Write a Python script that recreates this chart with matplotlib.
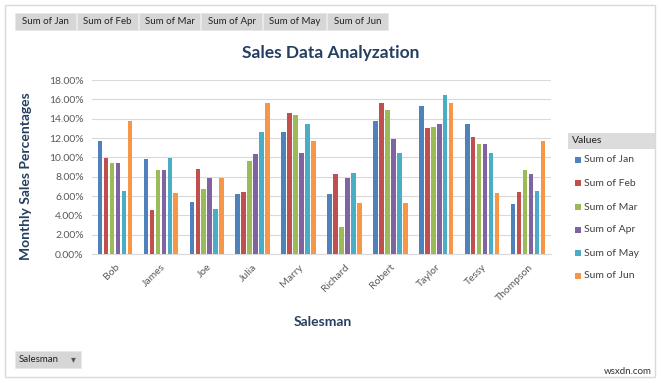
import matplotlib
matplotlib.use("Agg")
import matplotlib.pyplot as plt
from matplotlib.patches import Rectangle
import numpy as np

plt.rcParams['font.family'] = ['Lato', 'DejaVu Sans']

salesmen = ["Bob", "James", "Joe", "Julia", "Marry", "Richard", "Robert", "Taylor", "Tessy", "Thompson"]
series_names = ["Sum of Jan", "Sum of Feb", "Sum of Mar", "Sum of Apr", "Sum of May", "Sum of Jun"]
jan = [11.7, 9.8, 5.4, 6.2, 12.6, 6.2, 13.8, 15.3, 13.4, 5.2]
feb = [9.9, 4.6, 8.8, 6.4, 14.6, 8.3, 15.6, 13.0, 12.1, 6.4]
mar = [9.4, 8.7, 6.7, 9.6, 14.4, 2.8, 14.9, 13.1, 11.4, 8.7]
apr = [9.4, 8.7, 7.9, 10.3, 10.4, 7.9, 11.9, 13.4, 11.4, 8.3]
may = [6.5, 9.9, 4.7, 12.6, 13.5, 8.4, 10.5, 16.5, 10.5, 6.5]
jun = [13.8, 6.3, 7.9, 15.6, 11.7, 5.3, 5.3, 15.6, 6.3, 11.7]
yticks = [0, 2, 4, 6, 8, 10, 12, 14, 16, 18]

colors = ["#4F81BD", "#C0504D", "#9BBB59", "#8064A2", "#4BACC6", "#F79646"]
series = [jan, feb, mar, apr, may, jun]

W, H = 662, 383
fig = plt.figure(figsize=(W / 100, H / 100), dpi=100)

def fx(px):
    return px / W

def fy(py):
    return 1 - py / H

# outer border
fig.patches.append(Rectangle((fx(5), fy(377)), fx(650), 372 / H, transform=fig.transFigure,
                             fill=False, edgecolor="#D9D9D9", linewidth=1))

ax = fig.add_axes([fx(92), fy(254), fx(551 - 92), (254 - 80) / H])
x = np.arange(len(salesmen))
slot = 0.13
bw = 0.10
for i, (vals, c) in enumerate(zip(series, colors)):
    ax.bar(x + (i - 2.5) * slot, vals, width=bw, color=c, zorder=3)

ax.set_ylim(0, 18)
ax.set_xlim(-0.5, len(salesmen) - 0.5)
ax.set_yticks(yticks)
ax.set_yticklabels([f"{v:.2f}%" for v in yticks], fontsize=7.5, color="#595959")
ax.set_xticks(x)
ax.set_xticklabels(salesmen, rotation=45, ha="right", va="top", rotation_mode="anchor",
                   fontsize=7.5, color="#595959")
ax.tick_params(axis="both", length=0, pad=6)
ax.grid(axis="y", color="#D9D9D9", linewidth=0.8, zorder=0)
for s in ["top", "right", "left"]:
    ax.spines[s].set_visible(False)
ax.spines["bottom"].set_color("#D9D9D9")

title_color = "#243F60"
fig.text(fx(331), fy(53), "Sales Data Analyzation", ha="center", va="center",
         fontsize=12.5, fontweight="bold", color=title_color)
fig.text(fx(26), fy(176), "Monthly Sales Percentages", ha="center", va="center",
         rotation=90, fontsize=10, fontweight="bold", color=title_color)
fig.text(fx(323), fy(322), "Salesman", ha="center", va="center",
         fontsize=10, fontweight="bold", color=title_color)

# field buttons on top
btn_edges = [15, 77, 139, 201, 263, 327, 389]
for i, name in enumerate(series_names):
    x0, x1 = btn_edges[i], btn_edges[i + 1] - 1
    fig.patches.append(Rectangle((fx(x0), fy(30)), fx(x1 - x0), 17 / H, transform=fig.transFigure,
                                 facecolor="#D6D6D6", edgecolor="#E8E8E8", linewidth=0.6))
    fig.text(fx((x0 + x1) / 2), fy(21.5), name, ha="center", va="center", fontsize=7, color="#222222")

# Salesman button at bottom
fig.patches.append(Rectangle((fx(15), fy(368)), fx(66), 17 / H, transform=fig.transFigure,
                             facecolor="#D6D6D6", edgecolor="#E8E8E8", linewidth=0.6))
fig.text(fx(19), fy(359.5), "Salesman", ha="left", va="center", fontsize=7, color="#222222")
fig.text(fx(73), fy(359.5), "\u25BE", ha="center", va="center", fontsize=7, color="#555555",
         family=["DejaVu Sans"])

# legend
fig.patches.append(Rectangle((fx(568), fy(149)), fx(87), 16 / H, transform=fig.transFigure,
                             facecolor="#DCDCDC", edgecolor="none"))
fig.text(fx(572), fy(141), "Values", ha="left", va="center", fontsize=7.5, color="#222222")
leg_y = [160, 183, 207, 230, 253, 276]
for name, c, yy in zip(series_names, colors, leg_y):
    fig.patches.append(Rectangle((fx(575), fy(yy + 3)), fx(6), 6 / H, transform=fig.transFigure,
                                 facecolor=c, edgecolor="none"))
    fig.text(fx(584), fy(yy), name, ha="left", va="center", fontsize=7.5, color="#404040")

fig.text(fx(652), fy(372), "wsxdn.com", ha="right", va="center", fontsize=7, color="#333333")

fig.savefig("out.png", dpi=100)
